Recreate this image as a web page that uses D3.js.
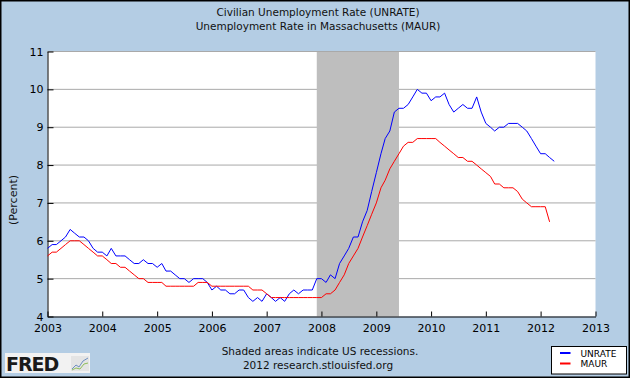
<!DOCTYPE html>
<html>
<head>
<meta charset="utf-8">
<script src="https://cdn.jsdelivr.net/npm/d3@7"></script>
<style>
  body { margin: 0; padding: 0; }
  svg { display: block; }
  text { font-family: "DejaVu Sans", Verdana, sans-serif; }
</style>
</head>
<body>
<div id="chart-area"></div>
<script>

// monthly data, Jan 2003 onward
var startMonth = "2003-01";

var unrate = [
  5.8,5.9,5.9,6.0,6.1,6.3,6.2,6.1,6.1,6.0,5.8,5.7,
  5.7,5.6,5.8,5.6,5.6,5.6,5.5,5.4,5.4,5.5,5.4,5.4,
  5.3,5.4,5.2,5.2,5.1,5.0,5.0,4.9,5.0,5.0,5.0,4.9,
  4.7,4.8,4.7,4.7,4.6,4.6,4.7,4.7,4.5,4.4,4.5,4.4,
  4.6,4.5,4.4,4.5,4.4,4.6,4.7,4.6,4.7,4.7,4.7,5.0,
  5.0,4.9,5.1,5.0,5.4,5.6,5.8,6.1,6.1,6.5,6.8,7.3,
  7.8,8.3,8.7,8.9,9.4,9.5,9.5,9.6,9.8,10.0,9.9,9.9,
  9.7,9.8,9.8,9.9,9.6,9.4,9.5,9.6,9.5,9.5,9.8,9.4,
  9.1,9.0,8.9,9.0,9.0,9.1,9.1,9.1,9.0,8.9,8.7,8.5,
  8.3,8.3,8.2,8.1
];

var maur = [
  5.6,5.7,5.7,5.8,5.9,6.0,6.0,6.0,5.9,5.8,5.7,5.6,
  5.6,5.5,5.4,5.4,5.3,5.3,5.2,5.1,5.0,5.0,4.9,4.9,
  4.9,4.9,4.8,4.8,4.8,4.8,4.8,4.8,4.8,4.9,4.9,4.9,
  4.8,4.8,4.8,4.8,4.8,4.8,4.8,4.8,4.8,4.7,4.7,4.7,
  4.6,4.5,4.5,4.5,4.5,4.5,4.5,4.5,4.5,4.5,4.5,4.5,
  4.5,4.6,4.6,4.7,4.9,5.1,5.4,5.6,5.8,6.1,6.4,6.7,
  7.0,7.4,7.6,7.9,8.1,8.3,8.5,8.6,8.6,8.7,8.7,8.7,
  8.7,8.7,8.6,8.5,8.4,8.3,8.2,8.2,8.1,8.1,8.0,7.9,
  7.8,7.7,7.5,7.5,7.4,7.4,7.4,7.3,7.1,7.0,6.9,6.9,
  6.9,6.9,6.5
];

var recession = ["2007-12-01", "2009-06-01"];
var yearTicks = [2003,2004,2005,2006,2007,2008,2009,2010,2011,2012,2013];
var yTicks = [4,5,6,7,8,9,10,11];

var titleLines = ["Civilian Unemployment Rate (UNRATE)", "Unemployment Rate in Massachusetts (MAUR)"];
var seriesNames = ["UNRATE", "MAUR"];
var seriesColors = ["#0000ff", "#ff0000"];

var W = 630, H = 378;
var plot = { left: 47.5, right: 595.5, top: 51.5, bottom: 316.5 };

var parseMonth = d3.timeParse("%Y-%m");
var t0 = parseMonth(startMonth);
function monthDate(i) { return d3.timeMonth.offset(t0, i); }

var x = d3.scaleTime()
    .domain([new Date(2003,0,1), new Date(2013,0,1)])
    .range([plot.left, plot.right]);

var y = d3.scaleLinear()
    .domain([4, 11])
    .range([plot.bottom, plot.top]);

var svg = d3.select("#chart-area")
    .append("svg")
    .attr("width", W)
    .attr("height", H);

// background + border
svg.append("rect")
    .attr("x", 0.5).attr("y", 0.5)
    .attr("width", W - 1).attr("height", H - 1)
    .attr("fill", "#b4cde4")
    .attr("stroke", "#000")
    .attr("stroke-width", 2);

// plot area
svg.append("rect")
    .attr("x", plot.left).attr("y", plot.top)
    .attr("width", plot.right - plot.left)
    .attr("height", plot.bottom - plot.top)
    .attr("fill", "#fff");

// gridlines
svg.selectAll(".grid")
    .data(yTicks.filter(function(d){ return d > 4; }))
    .enter()
    .append("line")
    .attr("x1", plot.left).attr("x2", plot.right)
    .attr("y1", function(d){ return y(d); })
    .attr("y2", function(d){ return y(d); })
    .attr("stroke", "#a9a9a9")
    .attr("stroke-width", 1);

// recession shading
svg.append("rect")
    .attr("x", x(new Date(recession[0])))
    .attr("y", plot.top + 0.5)
    .attr("width", x(new Date(recession[1])) - x(new Date(recession[0])))
    .attr("height", plot.bottom - plot.top - 0.5)
    .attr("fill", "#bebebe");

// left axis
var yAxis = d3.axisLeft(y)
    .tickValues(yTicks)
    .tickFormat(d3.format("d"))
    .tickSize(-6)
    .tickSizeOuter(0)
    .tickPadding(10);

var gy = svg.append("g")
    .attr("transform", "translate(" + plot.left + ",0)")
    .call(yAxis);
gy.select(".domain").attr("stroke", "#000");
gy.selectAll(".tick line").attr("stroke", "#000");
gy.selectAll(".tick text")
    .attr("x", -4)
    .style("font-size", "11px")
    .attr("fill", "#000")
    .style("font-family", "DejaVu Sans");

// bottom axis
var xAxis = d3.axisBottom(x)
    .tickValues(yearTicks.map(function(d){ return new Date(d,0,1); }))
    .tickFormat(d3.timeFormat("%Y"))
    .tickSize(-5)
    .tickSizeOuter(0)
    .tickPadding(8);

var gx = svg.append("g")
    .attr("transform", "translate(0," + plot.bottom + ")")
    .call(xAxis);
gx.select(".domain").attr("stroke", "#000");
gx.selectAll(".tick line").attr("stroke", "#000");
gx.selectAll(".tick text")
    .style("font-size", "11px")
    .attr("fill", "#000")
    .style("font-family", "DejaVu Sans");

// series lines
var line = d3.line()
    .x(function(d, i){ return x(monthDate(i)); })
    .y(function(d){ return y(d); });

[unrate, maur].forEach(function(s, k){
    svg.append("path")
        .datum(s)
        .attr("d", line)
        .attr("fill", "none")
        .attr("stroke", seriesColors[k])
        .attr("stroke-width", 1);
});

// titles
svg.selectAll(".title")
    .data(titleLines)
    .enter()
    .append("text")
    .attr("x", 318)
    .attr("y", function(d, i){ return 16 + i * 14; })
    .attr("text-anchor", "middle")
    .style("font-size", "10.5px")
    .attr("fill", "#111")
    .text(function(d){ return d; });

// y label
svg.append("text")
    .attr("transform", "translate(17,200) rotate(-90)")
    .attr("text-anchor", "middle")
    .style("font-size", "11px")
    .attr("fill", "#111")
    .text("(Percent)");

// footer
svg.append("text")
    .attr("x", 320).attr("y", 355)
    .attr("text-anchor", "middle")
    .style("font-size", "10.5px")
    .attr("fill", "#111")
    .text("Shaded areas indicate US recessions.");
svg.append("text")
    .attr("x", 318).attr("y", 368.5)
    .attr("text-anchor", "middle")
    .style("font-size", "10.5px")
    .attr("fill", "#111")
    .text("2012 research.stlouisfed.org");

// legend
var legend = svg.append("g");
legend.append("rect")
    .attr("x", 551.5).attr("y", 346.5)
    .attr("width", 75).attr("height", 27.5)
    .attr("fill", "#fff")
    .attr("stroke", "#000");
seriesNames.forEach(function(name, k){
    var ly = 353 + k * 10.5;
    legend.append("line")
        .attr("x1", 560).attr("x2", 570.5)
        .attr("y1", ly).attr("y2", ly)
        .attr("stroke", seriesColors[k])
        .attr("stroke-width", 2);
    legend.append("text")
        .attr("x", 580.5).attr("y", ly + 3.5)
        .style("font-size", "9px")
        .attr("fill", "#000")
        .text(name);
});

// FRED logo
var logo = svg.append("g");
logo.append("rect")
    .attr("x", 5).attr("y", 353)
    .attr("width", 85).attr("height", 20)
    .attr("fill", "#f2f2f2");
logo.append("text")
    .attr("x", 6).attr("y", 370.5)
    .style("font-size", "19px")
    .style("font-weight", "bold")
    .style("letter-spacing", "-1px")
    .attr("fill", "#1a1a1a")
    .text("FRED");
logo.append("rect")
    .attr("x", 71).attr("y", 356)
    .attr("width", 18).attr("height", 15)
    .attr("fill", "#e4e4e4");
logo.append("polyline")
    .attr("points", "72,369 76,365 79,367 83,361 88,358")
    .attr("fill", "none").attr("stroke", "#6e8fc0").attr("stroke-width", 1);
logo.append("polyline")
    .attr("points", "72,370 76,368 80,369 84,364 88,363")
    .attr("fill", "none").attr("stroke", "#8fbf5a").attr("stroke-width", 1);

</script>
</body>
</html>
